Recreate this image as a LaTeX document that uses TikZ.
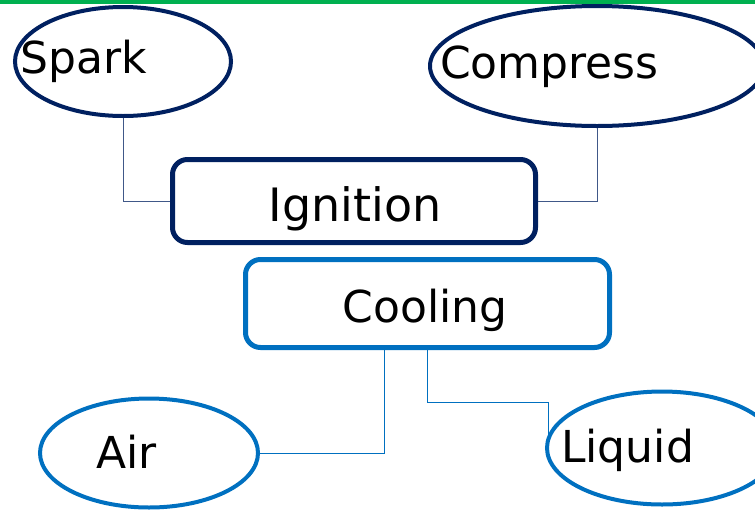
\documentclass[tikz,border=0pt]{standalone}
\usepackage{fontspec}
\setmainfont{DejaVu Sans}
\usetikzlibrary{shapes.geometric}
\definecolor{navy}{HTML}{002060}
\definecolor{bluec}{HTML}{0070C0}
\definecolor{greenbar}{HTML}{00B050}
\tikzset{
  oval/.style={ellipse, line width=4pt, inner sep=0pt, fill=white},
  topic/.style={rectangle, rounded corners=15pt, line width=5pt, inner sep=0pt, fill=white},
  word/.style={inner sep=0pt, font=\fontsize{44}{52}\selectfont, text=black},
  link/.style={line width=0.9pt},
}
\begin{document}
\begin{tikzpicture}[x=1pt, y=-1pt]
  \useasboundingbox (0,0) rectangle (755,512);
  \clip (0,0) rectangle (755,512);
  \fill[greenbar] (0,0) rectangle (755,4);

  % upper group: ignition
  \node[oval, draw=navy, minimum width=216pt, minimum height=109pt] (spark) at (123,61.5) {};
  \node[oval, draw=navy, minimum width=334pt, minimum height=120pt] (comp) at (597,66) {};
  \node[topic, draw=navy, minimum width=363pt, minimum height=83pt] (ign) at (354,201) {};
  \node[word, anchor=base west] (sparkt) at (20,73) {Spark};
  \node[word, anchor=base west] (compt) at (440,78) {Compress};
  \node[word, anchor=base, font=\fontsize{46}{54}\selectfont] (ignt) at (355,221) {Ignition};

  \draw[link, navy!75] (spark.south) |- (ign.west);
  \draw[link, navy!75] (comp.south) |- (ign.east);

  % lower group: cooling
  \node[topic, draw=bluec, minimum width=364pt, minimum height=88pt] (cool) at (427.5,303.5) {};
  \node[oval, draw=bluec, minimum width=218pt, minimum height=109pt] (air) at (149,453) {};
  \node[oval, draw=bluec, minimum width=230pt, minimum height=113pt] (liq) at (662,448) {};
  \node[word, anchor=base] (coolt) at (425,322) {Cooling};
  \node[word, anchor=base west] (airt) at (96,468) {Air};
  \node[word, anchor=base west] (liqt) at (561,462) {Liquid};

  \coordinate (ax) at (384,0);
  \coordinate (lx) at (427,0);
  \coordinate (lk) at (548,402);
  \draw[link, bluec] (air.east) -| (ax |- cool.south);
  \draw[link, bluec] (lx |- cool.south) |- (lk) -- (lk |- liq.176);
\end{tikzpicture}
\end{document}
